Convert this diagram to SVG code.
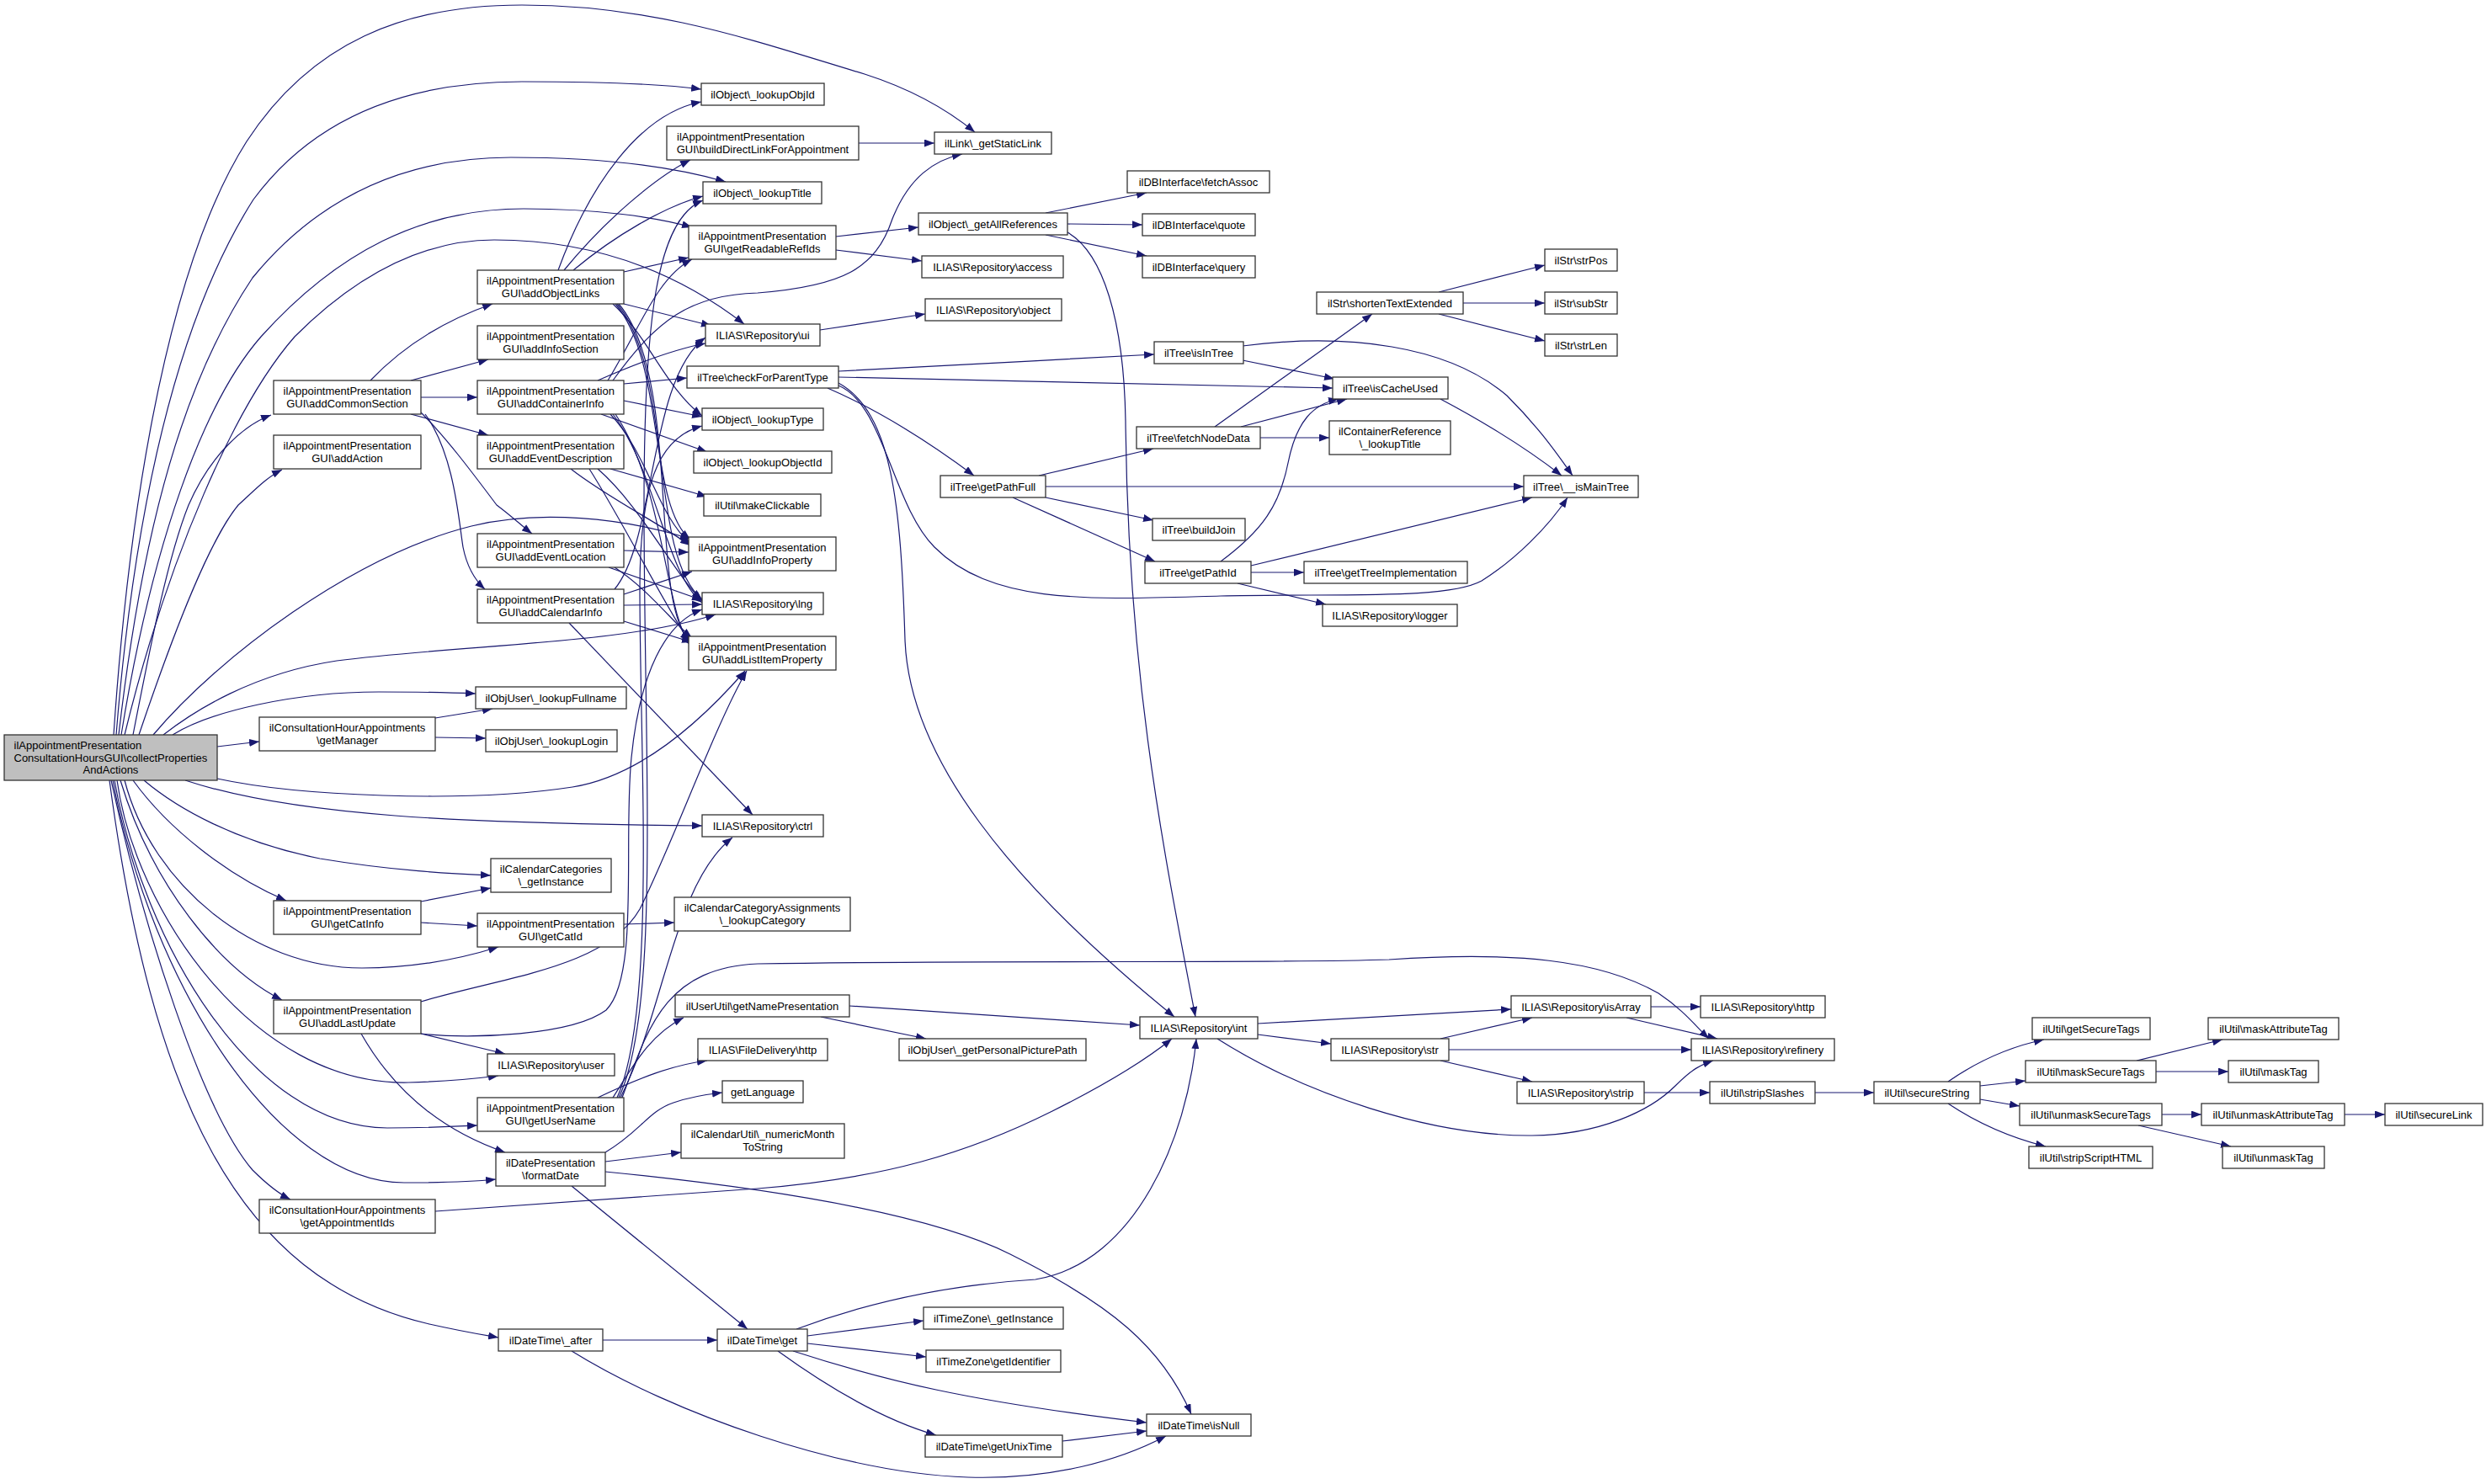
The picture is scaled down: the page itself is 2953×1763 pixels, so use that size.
<svg xmlns="http://www.w3.org/2000/svg" width="2953" height="1763" viewBox="0 0 2953 1763">
<defs>
<marker id="ah" viewBox="0 0 12 9" refX="12" refY="4.5" markerWidth="12" markerHeight="9" markerUnits="userSpaceOnUse" orient="auto"><path d="M0,0 L12,4.5 L0,9 z" fill="#191970"/></marker>
<style>
.n rect{fill:#fff;stroke:#333;stroke-width:1.3}
.n.root rect{fill:#bfbfbf}
.n text{font-family:"Liberation Sans",Arial,sans-serif;font-size:13px;fill:#000;text-anchor:middle}
.n text.l{text-anchor:start}
.e path{fill:none;stroke:#191970;stroke-width:1.2;marker-end:url(#ah)}
</style>
</defs>
<rect width="2953" height="1763" fill="#fff"/>
<g id="edges" class="e">
<path d="M135,873 C150,650 190,330 293,168 C370,50 480,6 620,6 C780,6 900,50 1027,88 C1080,105 1125,130 1158,157"/>
<path d="M138,873 C160,600 210,380 301,237 C380,130 500,97 620,97 C700,97 780,99 833,106"/>
<path d="M141,873 C170,620 220,450 300,330 C390,220 500,187 607,187 C720,187 800,198 862,216"/>
<path d="M144,873 C180,650 240,480 310,400 C400,300 500,248 622,248 C710,248 780,258 822,270"/>
<path d="M148,873 C200,660 280,480 350,400 C430,320 510,285 587,285 C700,285 800,320 884,385"/>
<path d="M158,873 C180,760 200,660 224,600 C250,540 290,505 322,493"/>
<path d="M165,873 C210,740 250,640 283,600 C300,585 315,568 335,558"/>
<path d="M182,873 C260,780 420,660 560,625 C640,605 740,615 820,640"/>
<path d="M194,873 C230,845 300,800 400,785 C560,765 740,765 850,730"/>
<path d="M205,873 C250,845 350,822 450,822 C500,822 540,823 565,824"/>
<path d="M258,887 L308,881"/>
<path d="M258,925 C350,945 550,955 680,935 C760,922 830,860 885,797"/>
<path d="M220,927 C350,970 550,978 834,981"/>
<path d="M171,927 C210,960 280,1000 380,1020 C470,1035 540,1038 583,1040"/>
<path d="M158,927 C200,985 270,1040 340,1070"/>
<path d="M148,927 C180,1050 300,1150 430,1150 C500,1150 560,1135 592,1125"/>
<path d="M143,927 C180,1050 260,1150 335,1188"/>
<path d="M139,927 C160,1080 300,1290 485,1286 C530,1285 560,1282 592,1278"/>
<path d="M136,927 C170,1120 300,1340 460,1340 C510,1340 545,1338 567,1337"/>
<path d="M134,927 C180,1170 330,1405 480,1405 C530,1405 570,1403 589,1401"/>
<path d="M132,927 C170,1100 240,1320 300,1390 C320,1410 335,1420 345,1425"/>
<path d="M130,927 C180,1300 280,1520 510,1573 C550,1582 575,1586 592,1589"/>
<path d="M440,452 C480,410 530,380 585,361"/>
<path d="M488,452 L580,427"/>
<path d="M500,472 L567,472"/>
<path d="M488,492 L580,517"/>
<path d="M500,490 C530,520 560,560 590,600 C610,615 620,625 632,634"/>
<path d="M505,492 C540,540 545,620 550,650 C555,675 565,690 576,700"/>
<path d="M663,321 C700,220 760,135 833,121"/>
<path d="M670,321 C720,260 780,210 820,190"/>
<path d="M681,321 C730,280 790,245 835,233"/>
<path d="M741,323 L818,306"/>
<path d="M741,361 L845,387"/>
<path d="M728,361 C770,400 790,460 834,494"/>
<path d="M731,361 C790,430 770,600 820,641"/>
<path d="M733,361 C800,440 770,660 834,712"/>
<path d="M735,361 C810,450 770,720 820,761"/>
<path d="M710,452 C760,430 800,415 838,408"/>
<path d="M728,452 C780,380 820,350 900,348 C1000,340 1040,320 1060,260 C1080,210 1110,190 1143,183"/>
<path d="M722,452 C760,390 780,330 822,308"/>
<path d="M741,456 L816,449"/>
<path d="M741,476 L834,495"/>
<path d="M714,492 L840,537"/>
<path d="M725,492 C770,540 780,610 820,646"/>
<path d="M728,492 C780,560 790,680 834,716"/>
<path d="M731,492 C790,580 790,730 820,766"/>
<path d="M725,557 L840,590"/>
<path d="M678,557 C720,590 780,620 820,648"/>
<path d="M710,557 C760,600 800,680 834,714"/>
<path d="M700,557 C740,620 790,720 820,764"/>
<path d="M741,654 L818,656"/>
<path d="M723,674 L834,713"/>
<path d="M730,674 C770,700 800,740 822,758"/>
<path d="M730,700 C780,640 770,450 838,401"/>
<path d="M741,706 L822,679"/>
<path d="M741,719 L834,718"/>
<path d="M741,738 L822,763"/>
<path d="M676,740 L894,968"/>
<path d="M517,853 L585,842"/>
<path d="M517,876 L577,877"/>
<path d="M500,1071 L583,1055"/>
<path d="M500,1096 L567,1100"/>
<path d="M741,1098 L801,1096"/>
<path d="M500,1228 L600,1252"/>
<path d="M429,1228 C470,1300 530,1345 600,1369"/>
<path d="M500,1190 C600,1160 720,1150 760,1080 C800,1000 850,860 887,797"/>
<path d="M500,1228 C560,1235 680,1230 720,1200 C760,1160 740,1000 750,900 C760,800 790,740 834,724"/>
<path d="M710,1304 C760,1280 800,1265 840,1260"/>
<path d="M728,1304 C750,1270 770,1230 812,1209"/>
<path d="M733,1304 C780,1200 760,900 760,700 C760,580 780,520 834,506"/>
<path d="M735,1304 C785,1200 765,900 765,600 C765,380 780,260 835,238"/>
<path d="M737,1304 C790,1200 800,1050 870,995"/>
<path d="M739,1304 C770,1220 790,1150 900,1145 C1200,1140 1500,1145 1650,1140 C1800,1130 1900,1140 1970,1180 C2000,1200 2015,1220 2030,1234"/>
<path d="M719,1369 C760,1345 770,1320 800,1310 C820,1303 840,1300 858,1298"/>
<path d="M719,1380 L809,1369"/>
<path d="M719,1392 C900,1410 1100,1440 1200,1490 C1320,1550 1380,1600 1415,1680"/>
<path d="M679,1409 L888,1579"/>
<path d="M716,1592 L852,1592"/>
<path d="M679,1605 C800,1680 1000,1750 1150,1755 C1250,1758 1330,1735 1385,1706"/>
<path d="M946,1579 C1050,1540 1150,1525 1230,1520 C1350,1500 1410,1350 1421,1234"/>
<path d="M959,1587 L1097,1569"/>
<path d="M959,1596 L1100,1612"/>
<path d="M942,1605 C1050,1640 1150,1665 1362,1690"/>
<path d="M924,1605 C1000,1660 1060,1690 1112,1705"/>
<path d="M1262,1712 L1362,1700"/>
<path d="M517,1439 L900,1412 C1050,1400 1150,1370 1250,1320 C1310,1290 1360,1260 1392,1234"/>
<path d="M1009,1195 L1354,1218"/>
<path d="M975,1208 L1100,1234"/>
<path d="M974,392 L1099,373"/>
<path d="M993,281 L1091,270"/>
<path d="M993,297 L1095,310"/>
<path d="M1020,170 L1110,170"/>
<path d="M996,441 C1100,435 1250,428 1371,421"/>
<path d="M996,448 C1200,452 1400,458 1583,461"/>
<path d="M983,461 C1050,490 1110,530 1157,565"/>
<path d="M996,458 C1050,480 1060,600 1110,650 C1180,720 1300,712 1450,708 C1600,705 1720,712 1760,690 C1800,665 1840,625 1862,591"/>
<path d="M996,455 C1060,490 1070,600 1075,760 C1080,900 1200,1050 1395,1208"/>
<path d="M1242,253 L1362,229"/>
<path d="M1268,266 L1357,267"/>
<path d="M1242,279 L1362,304"/>
<path d="M1268,276 C1310,300 1335,380 1337,500 C1340,800 1380,1000 1420,1208"/>
<path d="M1476,428 L1585,450"/>
<path d="M1476,411 C1600,395 1720,410 1790,470 C1830,510 1850,540 1868,565"/>
<path d="M1711,474 C1760,500 1810,530 1855,565"/>
<path d="M1443,507 L1630,373"/>
<path d="M1474,507 L1600,474"/>
<path d="M1497,520 L1579,520"/>
<path d="M1709,347 L1835,315"/>
<path d="M1738,360 L1835,360"/>
<path d="M1709,373 L1835,405"/>
<path d="M1234,565 L1370,533"/>
<path d="M1242,578 L1810,578"/>
<path d="M1242,591 L1370,618"/>
<path d="M1203,591 L1372,667"/>
<path d="M1450,667 C1500,630 1520,600 1530,550 C1540,500 1560,480 1590,474"/>
<path d="M1486,672 L1820,591"/>
<path d="M1486,680 L1549,680"/>
<path d="M1470,693 L1575,718"/>
<path d="M1494,1216 L1795,1199"/>
<path d="M1494,1229 L1581,1240"/>
<path d="M1446,1234 C1550,1300 1700,1350 1820,1349 C1900,1348 1960,1320 1990,1290 C2010,1270 2020,1265 2035,1260"/>
<path d="M1711,1234 L1820,1209"/>
<path d="M1721,1247 L2009,1247"/>
<path d="M1711,1260 L1820,1285"/>
<path d="M1961,1196 L2020,1196"/>
<path d="M1932,1209 L2040,1234"/>
<path d="M1953,1298 L2031,1298"/>
<path d="M2156,1298 L2226,1298"/>
<path d="M2314,1285 C2350,1260 2390,1243 2428,1235"/>
<path d="M2352,1290 L2406,1284"/>
<path d="M2352,1306 L2399,1314"/>
<path d="M2314,1311 C2350,1335 2390,1352 2430,1362"/>
<path d="M2538,1260 L2640,1235"/>
<path d="M2561,1273 L2647,1273"/>
<path d="M2568,1324 L2615,1324"/>
<path d="M2540,1337 L2650,1362"/>
<path d="M2785,1324 L2833,1324"/>
</g>
<g id="nodes">
<g id="n_main" class="n root"><rect x="5" y="873" width="253" height="54"/><text class="l" x="16.5" y="890">ilAppointmentPresentation</text><text class="l" x="16.5" y="905">ConsultationHoursGUI\collectProperties</text><text x="131.5" y="919">AndActions</text></g>
<g id="n_acs" class="n"><rect x="325" y="452" width="175" height="40"/><text x="412.5" y="469">ilAppointmentPresentation</text><text x="412.5" y="483.5">GUI\addCommonSection</text></g>
<g id="n_addAction" class="n"><rect x="325" y="517" width="175" height="40"/><text x="412.5" y="534">ilAppointmentPresentation</text><text x="412.5" y="548.5">GUI\addAction</text></g>
<g id="n_getManager" class="n"><rect x="308" y="852" width="209" height="40"/><text x="412.5" y="869">ilConsultationHourAppointments</text><text x="412.5" y="883.5">\getManager</text></g>
<g id="n_getCatInfo" class="n"><rect x="325" y="1070" width="175" height="40"/><text x="412.5" y="1087">ilAppointmentPresentation</text><text x="412.5" y="1101.5">GUI\getCatInfo</text></g>
<g id="n_addLastUpdate" class="n"><rect x="325" y="1188" width="175" height="40"/><text x="412.5" y="1205">ilAppointmentPresentation</text><text x="412.5" y="1219.5">GUI\addLastUpdate</text></g>
<g id="n_getApptIds" class="n"><rect x="308" y="1425" width="209" height="40"/><text x="412.5" y="1442">ilConsultationHourAppointments</text><text x="412.5" y="1456.5">\getAppointmentIds</text></g>
<g id="n_aol" class="n"><rect x="567" y="321" width="174" height="40"/><text x="654" y="338">ilAppointmentPresentation</text><text x="654" y="352.5">GUI\addObjectLinks</text></g>
<g id="n_addInfoSection" class="n"><rect x="567" y="387" width="174" height="40"/><text x="654" y="404">ilAppointmentPresentation</text><text x="654" y="418.5">GUI\addInfoSection</text></g>
<g id="n_aci" class="n"><rect x="567" y="452" width="174" height="40"/><text x="654" y="469">ilAppointmentPresentation</text><text x="654" y="483.5">GUI\addContainerInfo</text></g>
<g id="n_addEventDesc" class="n"><rect x="567" y="517" width="174" height="40"/><text x="654" y="534">ilAppointmentPresentation</text><text x="654" y="548.5">GUI\addEventDescription</text></g>
<g id="n_addEventLoc" class="n"><rect x="567" y="634" width="174" height="40"/><text x="654" y="651">ilAppointmentPresentation</text><text x="654" y="665.5">GUI\addEventLocation</text></g>
<g id="n_addCalInfo" class="n"><rect x="567" y="700" width="174" height="40"/><text x="654" y="717">ilAppointmentPresentation</text><text x="654" y="731.5">GUI\addCalendarInfo</text></g>
<g id="n_lookupFullname" class="n"><rect x="565" y="816" width="179" height="26"/><text x="654.5" y="833.5">ilObjUser\_lookupFullname</text></g>
<g id="n_lookupLogin" class="n"><rect x="577" y="867" width="156" height="26"/><text x="655" y="884.5">ilObjUser\_lookupLogin</text></g>
<g id="n_calCatInst" class="n"><rect x="583" y="1020" width="143" height="40"/><text x="654.5" y="1037">ilCalendarCategories</text><text x="654.5" y="1051.5">\_getInstance</text></g>
<g id="n_getCatId" class="n"><rect x="567" y="1085" width="174" height="40"/><text x="654" y="1102">ilAppointmentPresentation</text><text x="654" y="1116.5">GUI\getCatId</text></g>
<g id="n_user" class="n"><rect x="579" y="1252" width="151" height="26"/><text x="654.5" y="1269.5">ILIAS\Repository\user</text></g>
<g id="n_getUserName" class="n"><rect x="567" y="1304" width="174" height="40"/><text x="654" y="1321">ilAppointmentPresentation</text><text x="654" y="1335.5">GUI\getUserName</text></g>
<g id="n_formatDate" class="n"><rect x="589" y="1369" width="130" height="40"/><text x="654" y="1386">ilDatePresentation</text><text x="654" y="1400.5">\formatDate</text></g>
<g id="n_after" class="n"><rect x="592" y="1579" width="124" height="26"/><text x="654" y="1596.5">ilDateTime\_after</text></g>
<g id="n_lookupObjId" class="n"><rect x="833" y="99" width="146" height="26"/><text x="906" y="116.5">ilObject\_lookupObjId</text></g>
<g id="n_buildLink" class="n"><rect x="792" y="150" width="228" height="40"/><text class="l" x="804" y="167">ilAppointmentPresentation</text><text x="906" y="181.5">GUI\buildDirectLinkForAppointment</text></g>
<g id="n_lookupTitle" class="n"><rect x="835" y="216" width="141" height="26"/><text x="905.5" y="233.5">ilObject\_lookupTitle</text></g>
<g id="n_readableRefIds" class="n"><rect x="818" y="268" width="175" height="40"/><text x="905.5" y="285">ilAppointmentPresentation</text><text x="905.5" y="299.5">GUI\getReadableRefIds</text></g>
<g id="n_ui" class="n"><rect x="838" y="385" width="136" height="26"/><text x="906" y="402.5">ILIAS\Repository\ui</text></g>
<g id="n_checkParent" class="n"><rect x="816" y="435" width="180" height="26"/><text x="906" y="452.5">ilTree\checkForParentType</text></g>
<g id="n_lookupType" class="n"><rect x="834" y="485" width="144" height="26"/><text x="906" y="502.5">ilObject\_lookupType</text></g>
<g id="n_lookupObjectId" class="n"><rect x="824" y="536" width="164" height="26"/><text x="906" y="553.5">ilObject\_lookupObjectId</text></g>
<g id="n_makeClickable" class="n"><rect x="836" y="587" width="139" height="26"/><text x="905.5" y="604.5">ilUtil\makeClickable</text></g>
<g id="n_addInfoProp" class="n"><rect x="818" y="638" width="175" height="40"/><text x="905.5" y="655">ilAppointmentPresentation</text><text x="905.5" y="669.5">GUI\addInfoProperty</text></g>
<g id="n_lng" class="n"><rect x="834" y="704" width="144" height="26"/><text x="906" y="721.5">ILIAS\Repository\lng</text></g>
<g id="n_addListItemProp" class="n"><rect x="818" y="756" width="175" height="40"/><text x="905.5" y="773">ilAppointmentPresentation</text><text x="905.5" y="787.5">GUI\addListItemProperty</text></g>
<g id="n_ctrl" class="n"><rect x="834" y="968" width="144" height="26"/><text x="906" y="985.5">ILIAS\Repository\ctrl</text></g>
<g id="n_lookupCategory" class="n"><rect x="801" y="1066" width="209" height="40"/><text x="905.5" y="1083">ilCalendarCategoryAssignments</text><text x="905.5" y="1097.5">\_lookupCategory</text></g>
<g id="n_getNamePres" class="n"><rect x="802" y="1182" width="207" height="26"/><text x="905.5" y="1199.5">ilUserUtil\getNamePresentation</text></g>
<g id="n_fdHttp" class="n"><rect x="829" y="1234" width="154" height="26"/><text x="906" y="1251.5">ILIAS\FileDelivery\http</text></g>
<g id="n_getLanguage" class="n"><rect x="858" y="1284" width="96" height="26"/><text x="906" y="1301.5">getLanguage</text></g>
<g id="n_numMonth" class="n"><rect x="809" y="1335" width="194" height="41"/><text x="906" y="1352">ilCalendarUtil\_numericMonth</text><text x="906" y="1366.5">ToString</text></g>
<g id="n_dtGet" class="n"><rect x="852" y="1579" width="107" height="26"/><text x="905.5" y="1596.5">ilDateTime\get</text></g>
<g id="n_getStaticLink" class="n"><rect x="1110" y="157" width="139" height="26"/><text x="1179.5" y="174.5">ilLink\_getStaticLink</text></g>
<g id="n_getAllRefs" class="n"><rect x="1091" y="253" width="177" height="26"/><text x="1179.5" y="270.5">ilObject\_getAllReferences</text></g>
<g id="n_access" class="n"><rect x="1095" y="304" width="168" height="26"/><text x="1179" y="321.5">ILIAS\Repository\access</text></g>
<g id="n_object" class="n"><rect x="1099" y="355" width="162" height="26"/><text x="1180" y="372.5">ILIAS\Repository\object</text></g>
<g id="n_getPathFull" class="n"><rect x="1117" y="565" width="125" height="26"/><text x="1179.5" y="582.5">ilTree\getPathFull</text></g>
<g id="n_picPath" class="n"><rect x="1068" y="1234" width="222" height="26"/><text x="1179" y="1251.5">ilObjUser\_getPersonalPicturePath</text></g>
<g id="n_tzInst" class="n"><rect x="1097" y="1553" width="166" height="26"/><text x="1180" y="1570.5">ilTimeZone\_getInstance</text></g>
<g id="n_tzId" class="n"><rect x="1100" y="1604" width="160" height="26"/><text x="1180" y="1621.5">ilTimeZone\getIdentifier</text></g>
<g id="n_unixTime" class="n"><rect x="1099" y="1705" width="163" height="26"/><text x="1180.5" y="1722.5">ilDateTime\getUnixTime</text></g>
<g id="n_fetchAssoc" class="n"><rect x="1339" y="203" width="169" height="26"/><text x="1423.5" y="220.5">ilDBInterface\fetchAssoc</text></g>
<g id="n_quote" class="n"><rect x="1357" y="254" width="134" height="26"/><text x="1424" y="271.5">ilDBInterface\quote</text></g>
<g id="n_query" class="n"><rect x="1357" y="304" width="134" height="26"/><text x="1424" y="321.5">ilDBInterface\query</text></g>
<g id="n_isInTree" class="n"><rect x="1371" y="406" width="106" height="26"/><text x="1424" y="423.5">ilTree\isInTree</text></g>
<g id="n_fetchNodeData" class="n"><rect x="1350" y="507" width="147" height="26"/><text x="1423.5" y="524.5">ilTree\fetchNodeData</text></g>
<g id="n_buildJoin" class="n"><rect x="1369" y="616" width="110" height="26"/><text x="1424" y="633.5">ilTree\buildJoin</text></g>
<g id="n_getPathId" class="n"><rect x="1360" y="667" width="126" height="26"/><text x="1423" y="684.5">ilTree\getPathId</text></g>
<g id="n_int" class="n"><rect x="1354" y="1208" width="140" height="26"/><text x="1424" y="1225.5">ILIAS\Repository\int</text></g>
<g id="n_isNull" class="n"><rect x="1362" y="1680" width="124" height="26"/><text x="1424" y="1697.5">ilDateTime\isNull</text></g>
<g id="n_shorten" class="n"><rect x="1564" y="347" width="174" height="26"/><text x="1651" y="364.5">ilStr\shortenTextExtended</text></g>
<g id="n_isCacheUsed" class="n"><rect x="1583" y="448" width="137" height="26"/><text x="1651.5" y="465.5">ilTree\isCacheUsed</text></g>
<g id="n_contRef" class="n"><rect x="1579" y="500" width="144" height="40"/><text x="1651" y="517">ilContainerReference</text><text x="1651" y="531.5">\_lookupTitle</text></g>
<g id="n_treeImpl" class="n"><rect x="1549" y="667" width="194" height="26"/><text x="1646" y="684.5">ilTree\getTreeImplementation</text></g>
<g id="n_logger" class="n"><rect x="1571" y="718" width="160" height="26"/><text x="1651" y="735.5">ILIAS\Repository\logger</text></g>
<g id="n_str" class="n"><rect x="1581" y="1234" width="140" height="26"/><text x="1651" y="1251.5">ILIAS\Repository\str</text></g>
<g id="n_isMainTree" class="n"><rect x="1810" y="565" width="136" height="26"/><text x="1878" y="582.5">ilTree\__isMainTree</text></g>
<g id="n_strPos" class="n"><rect x="1835" y="296" width="86" height="26"/><text x="1878" y="313.5">ilStr\strPos</text></g>
<g id="n_subStr" class="n"><rect x="1835" y="347" width="86" height="26"/><text x="1878" y="364.5">ilStr\subStr</text></g>
<g id="n_strLen" class="n"><rect x="1835" y="397" width="86" height="26"/><text x="1878" y="414.5">ilStr\strLen</text></g>
<g id="n_isArray" class="n"><rect x="1795" y="1183" width="166" height="26"/><text x="1878" y="1200.5">ILIAS\Repository\isArray</text></g>
<g id="n_strip" class="n"><rect x="1802" y="1285" width="151" height="26"/><text x="1877.5" y="1302.5">ILIAS\Repository\strip</text></g>
<g id="n_http" class="n"><rect x="2020" y="1183" width="148" height="26"/><text x="2094" y="1200.5">ILIAS\Repository\http</text></g>
<g id="n_refinery" class="n"><rect x="2009" y="1234" width="170" height="26"/><text x="2094" y="1251.5">ILIAS\Repository\refinery</text></g>
<g id="n_stripSlashes" class="n"><rect x="2031" y="1285" width="125" height="26"/><text x="2093.5" y="1302.5">ilUtil\stripSlashes</text></g>
<g id="n_secureString" class="n"><rect x="2226" y="1285" width="126" height="26"/><text x="2289" y="1302.5">ilUtil\secureString</text></g>
<g id="n_getSecureTags" class="n"><rect x="2414" y="1209" width="140" height="26"/><text x="2484" y="1226.5">ilUtil\getSecureTags</text></g>
<g id="n_maskSecureTags" class="n"><rect x="2406" y="1260" width="155" height="26"/><text x="2483.5" y="1277.5">ilUtil\maskSecureTags</text></g>
<g id="n_unmaskSecureTags" class="n"><rect x="2399" y="1311" width="169" height="26"/><text x="2483.5" y="1328.5">ilUtil\unmaskSecureTags</text></g>
<g id="n_stripScriptHTML" class="n"><rect x="2410" y="1362" width="147" height="26"/><text x="2483.5" y="1379.5">ilUtil\stripScriptHTML</text></g>
<g id="n_maskAttributeTag" class="n"><rect x="2623" y="1209" width="155" height="26"/><text x="2700.5" y="1226.5">ilUtil\maskAttributeTag</text></g>
<g id="n_maskTag" class="n"><rect x="2647" y="1260" width="107" height="26"/><text x="2700.5" y="1277.5">ilUtil\maskTag</text></g>
<g id="n_unmaskAttributeTag" class="n"><rect x="2615" y="1311" width="170" height="26"/><text x="2700" y="1328.5">ilUtil\unmaskAttributeTag</text></g>
<g id="n_unmaskTag" class="n"><rect x="2640" y="1362" width="121" height="26"/><text x="2700.5" y="1379.5">ilUtil\unmaskTag</text></g>
<g id="n_secureLink" class="n"><rect x="2833" y="1311" width="116" height="26"/><text x="2891" y="1328.5">ilUtil\secureLink</text></g>
</g>
</svg>
